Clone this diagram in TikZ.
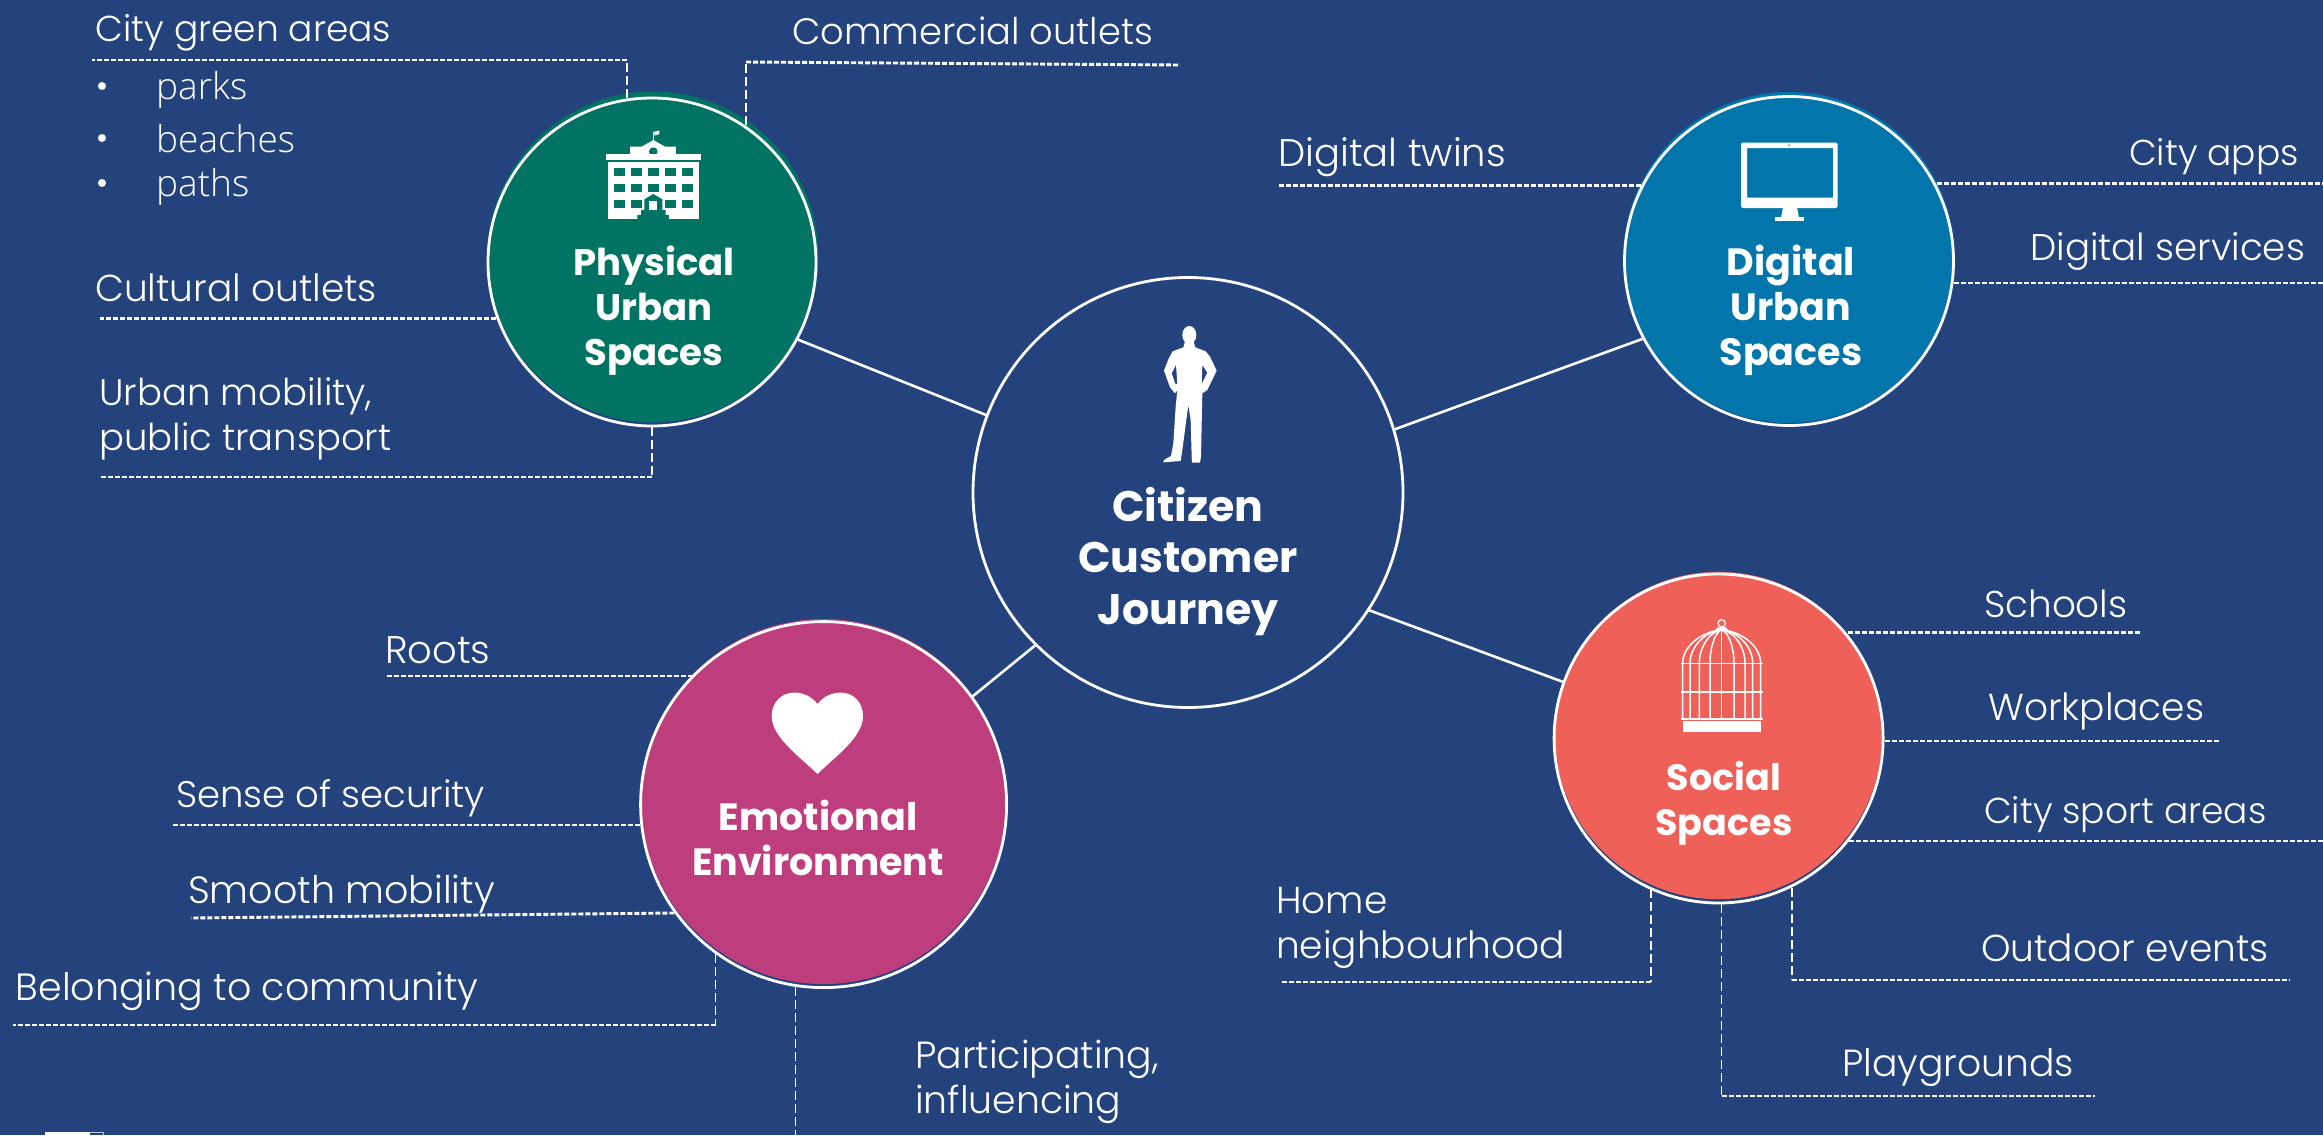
\documentclass[tikz,border=0pt]{standalone}
\usepackage{fontspec}
\setmainfont{Poppins}
\newfontfamily\lightfont{Poppins Light}
\newfontfamily\boldfont{Poppins}
\newfontfamily\bulletfont{Open Sans Light}
\definecolor{bgblue}{RGB}{36,67,124}
\definecolor{cgreen}{RGB}{0,115,99}
\definecolor{cblue}{RGB}{2,118,170}
\definecolor{cmagenta}{RGB}{190,61,125}
\definecolor{cred}{RGB}{238,96,88}
\tikzset{
  hub/.style={circle,draw=white,line width=2.8pt,inner sep=0pt,minimum size=#1},
  link/.style={draw=white,line width=2.6pt},
  hdash/.style={draw=white,line width=2.9pt,dash pattern=on 5pt off 2pt},
  vdash/.style={draw=white,line width=1.7pt,dash pattern=on 9pt off 4pt},
  lab/.style={anchor=base west,inner sep=0pt,text=white,align=left,yshift=-1.2pt,font=\lightfont\fontsize{#1}{45}\selectfont},
  lab/.default=37,
  sub/.style={anchor=base west,inner sep=0pt,text=white,font=\bulletfont\fontsize{37}{44}\selectfont},
  ttl/.style={anchor=base,inner sep=0pt,text=white,align=center,font=\boldfont\bfseries\fontsize{#1}{45}\selectfont},
  ttl/.default=36.5,
  bigttl/.style={anchor=base,inner sep=0pt,text=white,align=center,font=\boldfont\bfseries\fontsize{42.7}{51.5}\selectfont},
}
\begin{document}
\begin{tikzpicture}[x=1pt,y=-1pt]
\useasboundingbox (0,0) rectangle (2323,1135);
\fill[bgblue] (0,0) rectangle (2323,1135);
% cropped logo at the bottom edge
\fill[white] (45,1132) rectangle (90,1135);
\draw[white!70!bgblue,line width=1pt] (90,1132.5) -- (103,1132.5) -- (103,1135);
% colour discs
\fill[cgreen] (653,257) circle[radius=165.5];
\fill[cblue] (1789,257.5) circle[radius=165.5];
\fill[cmagenta] (823.6,801.5) circle[radius=182.5];
\fill[cred] (1718.6,735.5) circle[radius=163.7];
% hub outlines
\node[hub=430pt] (core) at (1188,492.5) {};
\node[hub=328pt] (phys) at (652,262) {};
\node[hub=329pt] (digi) at (1789,261) {};
\node[hub=366pt] (emot) at (823.6,804.6) {};
\node[hub=329pt] (soci) at (1718.6,738.5) {};
% solid connectors
\draw[link] (core.159.6) -- (phys.-28.9);
\draw[link] (core.17.8) -- (digi.208.6);
\draw[link] (core.225) -- (emot.36.5);
\draw[link] (core.-33.5) -- (soci.160.2);
% leader ends
\coordinate (gEnd) at (92,60);
\coordinate (gBend) at (627,60);
\coordinate (cBend) at (746,62);
\coordinate (cEnd) at (1180,65);
\coordinate (kEnd) at (99.5,318.5);
\coordinate (uEnd) at (99.5,477);
\coordinate (uBend) at (652,477);
\coordinate (tEnd) at (1279,185.5);
\coordinate (aEnd) at (2323,183.5);
\coordinate (sEnd) at (2323,283);
\coordinate (rEnd) at (387,676);
\coordinate (seEnd) at (172,825);
\coordinate (moEnd) at (191,918);
\coordinate (beEnd) at (13,1025);
\coordinate (beBend) at (715.5,1025);
\coordinate (paEnd) at (795.5,1135);
\coordinate (scEnd) at (2140.5,632.6);
\coordinate (woEnd) at (2220,741);
\coordinate (spEnd) at (2323,841);
\coordinate (hoEnd) at (1281.7,982);
\coordinate (hoBend) at (1651,982);
\coordinate (ouBend) at (1791.7,980);
\coordinate (ouEnd) at (2289,980);
\coordinate (plBend) at (1721.5,1096);
\coordinate (plEnd) at (2095,1096);
% physical leaders
\draw[vdash] (phys.98.6 -| gBend) -- (gBend);
\draw[hdash] (gBend) -- (gEnd);
\draw[vdash] (phys.56.9 -| cBend) -- (cBend);
\draw[hdash] (cBend) -- (cEnd);
\draw[hdash] (phys.199.9 |- kEnd) -- (kEnd);
\draw[vdash] (phys.270) -- (uBend);
\draw[hdash] (uBend) -- (uEnd);
% digital leaders
\draw[hdash] (digi.153 |- tEnd) -- (tEnd);
\draw[hdash] (digi.27.6 |- aEnd) -- (aEnd);
\draw[hdash] (digi.-7.8 |- sEnd) -- (sEnd);
% emotional leaders
\draw[hdash] (emot.135.2 |- rEnd) -- (rEnd);
\draw[hdash] (emot.186.2 |- seEnd) -- (seEnd);
\draw[hdash] (emot.216) -- (moEnd);
\draw[vdash] (emot.234.6 -| beBend) -- (beBend);
\draw[hdash] (beBend) -- (beEnd);
\draw[vdash] (emot.261 -| paEnd) -- (paEnd);
% social leaders
\draw[hdash] (soci.39.3 |- scEnd) -- (scEnd);
\draw[hdash] (soci.0 |- woEnd) -- (woEnd);
\draw[hdash] (soci.-38.4 |- spEnd) -- (spEnd);
\draw[vdash] (soci.245.8 -| hoBend) -- (hoBend);
\draw[hdash] (hoBend) -- (hoEnd);
\draw[vdash] (soci.296.2 -| ouBend) -- (ouBend);
\draw[hdash] (ouBend) -- (ouEnd);
\draw[vdash] (soci.270 -| plBend) -- (plBend);
\draw[hdash] (plBend) -- (plEnd);
% titles
\node[bigttl] (tCore) at (1188,624) {Citizen\\Customer\\Journey};
\node[ttl=37] (tPhys) at (654,365) {Physical\\Urban\\Spaces};
\node[ttl=38] (tDigi) at (1791,365) {Digital\\Urban\\Spaces};
\node[ttl=38] (tEmot) at (818,875) {Emotional\\Environment};
\node[ttl] (tSoci) at (1724,835) {Social\\Spaces};
% labels
\node[lab=36] (lGreen) at (95.5,40) {City green areas};
\node[sub] (lPark) at (156,99) {parks};
\node[sub] (lBeach) at (156,152) {beaches};
\node[sub] (lPath) at (156,196) {paths};
\foreach \yy in {86,138,183}{\fill[white] (102,\yy) circle[radius=4];}
\node[lab=36.8] (lComm) at (792,43) {Commercial outlets};
\node[lab=37.5] (lCult) at (95,300) {Cultural outlets};
\node[lab] (lUrb) at (99,449) {Urban mobility,\\public transport};
\node[lab=38.5] (lTwin) at (1278,165) {Digital twins};
\node[lab=36] (lApps) at (2129,164) {City apps};
\node[lab=37.2] (lServ) at (2030,259) {Digital services};
\node[lab=38.5] (lRoot) at (385,662) {Roots};
\node[lab=37] (lSec) at (176,806.5) {Sense of security};
\node[lab=38] (lMob) at (188,902) {Smooth mobility};
\node[lab=38] (lBel) at (15.5,999) {Belonging to community};
\node[lab=37.8] (lPart) at (915,1112) {Participating,\\influencing};
\node[lab=37.3] (lSch) at (1984,616) {Schools};
\node[lab=37.5] (lWork) at (1988,719.5) {Workplaces};
\node[lab=36] (lSport) at (1984,822) {City sport areas};
\node[lab=37.5] (lHome) at (1276,957) {Home\\neighbourhood};
\node[lab=37.5] (lOut) at (1981,960) {Outdoor events};
\node[lab=37.7] (lPlay) at (1842,1075) {Playgrounds};
% person icon
\begin{scope}[shift={(1120,310)},x=0.3333pt,y=-0.3333pt]
\fill[white] (208,75) ellipse[x radius=21,y radius=27];
\fill[white,even odd rule,line join=round]
 (196,92) -- (190,112) -- (158,124) -- (145,148) -- (132,182) -- (150,232) -- (165,250) -- (172,240) -- (167,290) -- (160,400) -- (153,438) -- (132,450) -- (130,457) -- (182,453) -- (187,420) -- (205,285) -- (212,330) -- (215,440) -- (216,458) -- (240,458) -- (243,440) -- (247,250) -- (262,240) -- (290,182) -- (270,140) -- (257,124) -- (226,112) -- (220,92) -- cycle
 (168,165) -- (155,190) -- (166,222) -- (172,222) -- cycle
 (247,165) -- (262,188) -- (245,222) -- cycle;
\end{scope}
% building icon
\begin{scope}[shift={(580,120)},x=0.3333pt,y=-0.3333pt]
\draw[white,line width=1.2pt] (220,35) -- (220,62);
\fill[white] (222,35) -- (238,32) -- (238,42) -- (224,47) -- cycle;
\fill[white] (150,103) -- (150,80) -- (185,80) -- (220,60) -- (255,80) -- (288,80) -- (288,103) -- cycle;
\fill[cgreen] (220,95) circle[radius=13];
\fill[white] (78,103) rectangle (362,120);
\fill[white] (85,127) rectangle (356,296);
\foreach \cx in {102,153,204,255,306}{
  \foreach \cy in {145,192}{\fill[cgreen] (\cx,\cy) rectangle ++(32,24);}}
\foreach \cx in {102,153,255,306}{\fill[cgreen] (\cx,240) rectangle ++(32,24);}
\fill[cgreen] (172,297) -- (172,285) -- (183,285) -- (183,270) -- (193,270) -- (193,238) -- (220,222) -- (247,238) -- (247,270) -- (257,270) -- (257,285) -- (267,285) -- (267,297) -- cycle;
\fill[white] (207,242) rectangle (232,270);
\end{scope}
% monitor icon
\fill[white,even odd rule,rounded corners=1.5pt] (1741,142.7) rectangle (1837.5,208) (1747,148) [sharp corners] rectangle (1833,197.7);
\fill[white] (1783,207) -- (1797,207) -- (1799,218) -- (1781,218) -- cycle;
\fill[white] (1775,217) rectangle (1804,220.7);
\fill[cblue] (1789,145.3) circle[radius=0.9];
% heart icon
\fill[white] (817.5,774) .. controls (799,756) and (771.7,737) .. (771.7,716) .. controls (771.7,702) and (782,692.6) .. (794,692.6) .. controls (804,692.6) and (812,697) .. (817.5,704) .. controls (823,697) and (831,692.6) .. (841,692.6) .. controls (853,692.6) and (863,702) .. (863,716) .. controls (863,737) and (836,756) .. (817.5,774) -- cycle;
% cage icon
\begin{scope}[shift={(1660,610)},x=0.3333pt,y=-0.3333pt]
\draw[white,line width=1.1pt] (185,40) circle[radius=11];
\fill[white] (163,63) -- (207,63) -- (196,51) -- (174,51) -- cycle;
\foreach \bx in {68,90,118,150,185,222,255,278,302}{
  \draw[white,line width=1.5pt] (\bx,330) -- (\bx,160) .. controls (\bx,105) and ({\bx+(185-\bx)*0.55},62) .. (185,60);
}
\foreach \hy in {160,246,327}{\draw[white,line width=1.5pt] (62,\hy) -- (308,\hy);}
\fill[white] (68,332) rectangle (304,366);
\end{scope}
\end{tikzpicture}
\end{document}
